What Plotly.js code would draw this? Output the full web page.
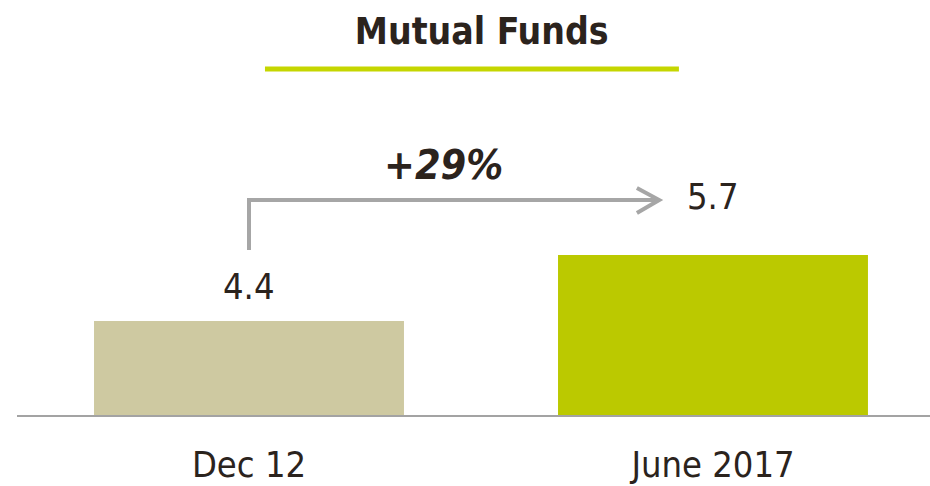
<!DOCTYPE html>
<html>
<head>
<meta charset="utf-8">
<script src="https://cdn.plot.ly/plotly-3.0.1.min.js"></script>
<style>html,body{margin:0;padding:0;background:#fff}#chart{width:930px;height:486px}</style>
</head>
<body>
<div id="chart"></div>
<script>
const categories = ["Dec 12", "June 2017"];
const values = [4.4, 5.7];
const valueLabels = ["4.4", "5.7"];
const changeLabel = "+29%";
const titleText = "Mutual Funds";

const FONT = '"DejaVu Sans Condensed", "Liberation Sans Narrow", "DejaVu Sans", sans-serif';
const TXT = '#2b231d';
const barColors = ['#cec9a1', '#bbc900'];
const labelShift = [12, 36];

const trace = {
  type: 'bar',
  x: categories,
  y: values,
  marker: {color: barColors},
  width: 0.668,
  hoverinfo: 'none',
  showlegend: false
};

const annotations = categories.map((c, i) => ({
  x: c, y: values[i], xref: 'x', yref: 'y',
  text: valueLabels[i], showarrow: false,
  yanchor: 'bottom', yshift: labelShift[i],
  font: {family: FONT, size: 36, color: TXT}
}));
annotations.push({
  x: 0.42, y: 7.47, xref: 'x', yref: 'y',
  text: '<b><i>' + changeLabel + '</i></b>', showarrow: false,
  yanchor: 'middle', xanchor: 'center',
  font: {family: FONT, size: 41, color: TXT}
});

const layout = {
  width: 930, height: 486,
  margin: {l: 17, r: 0, t: 100, b: 71},
  paper_bgcolor: '#fff', plot_bgcolor: '#fff',
  title: {
    text: '<b>' + titleText + '</b>',
    x: 0.518, xref: 'container', xanchor: 'center',
    y: 0.936, yref: 'container', yanchor: 'middle',
    font: {family: FONT, size: 37, color: TXT}
  },
  xaxis: {
    type: 'category',
    range: [-0.5, 1.4677],
    showline: true, linecolor: '#a3a3a3', linewidth: 2,
    showgrid: false, zeroline: false, ticks: '',
    ticklabelstandoff: 17,
    tickfont: {family: FONT, size: 36, color: TXT},
    fixedrange: true
  },
  yaxis: {
    range: [2.548, 8.754],
    visible: false, showgrid: false, zeroline: false,
    fixedrange: true
  },
  annotations: annotations,
  shapes: [
    {type: 'line', xref: 'paper', yref: 'paper',
     x0: 0.2716, x1: 0.725, y0: 1.0984, y1: 1.0984,
     line: {color: '#c5d600', width: 5}},
    {type: 'path', xref: 'x', yref: 'y',
     path: 'M 0,5.80 L 0,6.784 L 0.878,6.784',
     line: {color: '#a6a6a6', width: 4}},
    {type: 'path', xref: 'x', yref: 'y',
     path: 'M 0.836,7.02 L 0.884,6.784 L 0.836,6.528',
     line: {color: '#a6a6a6', width: 4}}
  ]
};

Plotly.newPlot('chart', [trace], layout, {displayModeBar: false, staticPlot: true});
</script>
</body>
</html>
